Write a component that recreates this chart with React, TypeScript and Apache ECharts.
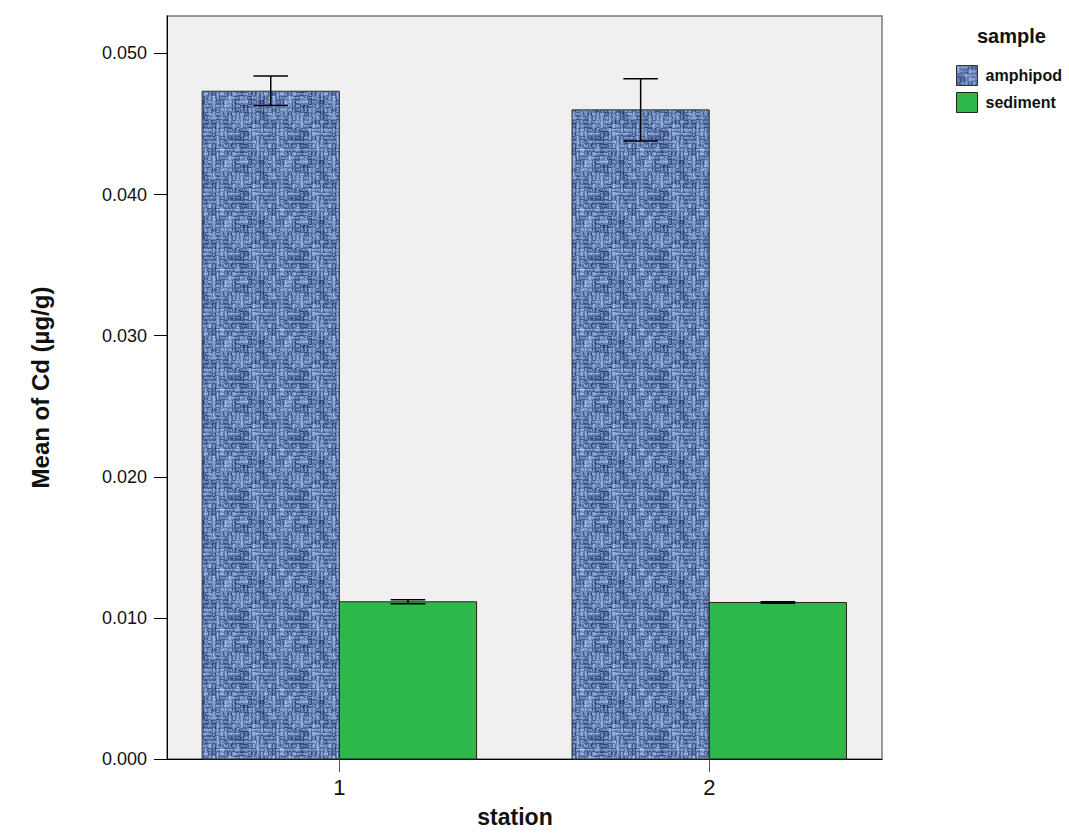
import React, { useEffect, useRef } from "react";
import * as echarts from "echarts";

const stations = [1, 2];
const amphipodMean = [0.04732, 0.046];
const amphipodLow = [0.0463, 0.04379];
const amphipodHigh = [0.04839, 0.04821];
const sedimentMean = [0.01114, 0.01109];
const sedimentLow = [0.011, 0.01104];
const sedimentHigh = [0.01128, 0.01114];
const yTicks = [0, 0.01, 0.02, 0.03, 0.04, 0.05];
const seriesNames = ["amphipod", "sediment"];

const BAR_W = 0.371;
const CAP = 0.0468;
const FONT = "'Liberation Sans', Arial, sans-serif";

function hash(a: number, b: number): number {
  const s = Math.sin(a * 12.9898 + b * 78.233) * 43758.5453;
  return s - Math.floor(s);
}

function makeTexture(): string {
  const S = 60;
  const c = document.createElement("canvas");
  c.width = S;
  c.height = S;
  const ctx = c.getContext("2d")!;
  const img = ctx.createImageData(S, S);
  const dark = [28, 52, 108];
  const light = [182, 210, 252];
  const prof = [0.3, 0.85, 0.65, 0.25];
  for (let y = 0; y < S; y++) {
    for (let x = 0; x < S; x++) {
      const cx = Math.floor(x / 4);
      const cy = Math.floor(y / 4);
      const bx = Math.floor(x / 9);
      const by = Math.floor(y / 9);
      const horiz = hash(cx * 0.9 + 5.1, cy * 1.3 + 2.2) > 0.5;
      const t = horiz ? y % 4 : x % 4;
      const n = hash(cx * 3.1 + 0.7, cy * 5.3 + 1.1);
      const big = hash(bx * 1.7 + 2.3, by * 2.9 + 0.4);
      let v =
        prof[t] * 0.55 +
        n * 0.3 +
        (big - 0.5) * 0.25 +
        (hash(x + 11.3, y + 4.7) - 0.5) * 0.35 +
        0.04;
      v = Math.max(0, Math.min(1, v));
      const i = (y * S + x) * 4;
      img.data[i] = dark[0] + (light[0] - dark[0]) * v;
      img.data[i + 1] = dark[1] + (light[1] - dark[1]) * v;
      img.data[i + 2] = dark[2] + (light[2] - dark[2]) * v;
      img.data[i + 3] = 255;
    }
  }
  ctx.putImageData(img, 0, 0);
  return c.toDataURL();
}

export default function App() {
  const ref = useRef<HTMLDivElement>(null);
  useEffect(() => {
    if (!ref.current) return;
    const chart = echarts.init(ref.current, null, { renderer: "svg" });
    const pattern: any = {
      image: makeTexture(),
      repeat: "repeat",
      imageWidth: 60,
      imageHeight: 60,
    };
    const green = "#2eb84b";

    const makeRender = (side: number, fill: any, stroke: string) => (params: any, api: any) => {
      const x = api.value(0) as number;
      const m = api.value(1) as number;
      const lo = api.value(2) as number;
      const hi = api.value(3) as number;
      const x0 = side < 0 ? x - BAR_W : x;
      const x1 = x0 + BAR_W;
      const mid = (x0 + x1) / 2;
      const tl = api.coord([x0, m]);
      const br = api.coord([x1, 0]);
      const pHi = api.coord([mid, hi]);
      const pLo = api.coord([mid, lo]);
      const capL = api.coord([mid - CAP, hi])[0];
      const capR = api.coord([mid + CAP, hi])[0];
      const es = { stroke: "#000", lineWidth: 1.5 };
      return {
        type: "group",
        children: [
          {
            type: "rect",
            shape: { x: tl[0], y: tl[1], width: br[0] - tl[0], height: br[1] - tl[1] },
            style: { fill, stroke, lineWidth: 1 },
          },
          { type: "line", shape: { x1: pHi[0], y1: pHi[1], x2: pLo[0], y2: pLo[1] }, style: es },
          { type: "line", shape: { x1: capL, y1: pHi[1], x2: capR, y2: pHi[1] }, style: es },
          { type: "line", shape: { x1: capL, y1: pLo[1], x2: capR, y2: pLo[1] }, style: es },
        ],
      };
    };

    const ampData = stations.map((s, i) => [s, amphipodMean[i], amphipodLow[i], amphipodHigh[i]]);
    const sedData = stations.map((s, i) => [s, sedimentMean[i], sedimentLow[i], sedimentHigh[i]]);

    chart.setOption({
      animation: false,
      textStyle: { fontFamily: FONT },
      grid: {
        left: 167,
        right: 187,
        top: 16,
        bottom: 71,
        show: true,
        backgroundColor: "#f0f0f0",
        borderColor: "#7a7a7a",
        borderWidth: 1.5,
      },
      xAxis: {
        type: "value",
        min: 0.534,
        max: 2.467,
        name: "station",
        nameLocation: "middle",
        nameGap: 46,
        nameTextStyle: {
          fontSize: 23,
          fontWeight: "bold",
          color: "#111",
          fontFamily: FONT,
          padding: [0, 19, 0, 0],
        },
        splitLine: { show: false },
        axisLine: { show: true, lineStyle: { color: "#000", width: 1 } },
        axisTick: {
          show: true,
          length: 13,
          customValues: stations,
          lineStyle: { color: "#555", width: 1 },
        },
        axisLabel: {
          customValues: stations,
          fontSize: 22,
          color: "#111",
          margin: 17,
          fontFamily: FONT,
          formatter: (v: number) => String(v),
        },
      },
      yAxis: {
        type: "value",
        min: 0,
        max: 0.05265,
        name: "Mean of Cd (µg/g)",
        nameLocation: "middle",
        nameGap: 115,
        nameTextStyle: { fontSize: 24, fontWeight: "bold", color: "#111", fontFamily: FONT },
        splitLine: { show: false },
        axisLine: { show: true, lineStyle: { color: "#000", width: 1 } },
        axisTick: {
          show: true,
          length: 13,
          customValues: yTicks,
          lineStyle: { color: "#000", width: 1 },
        },
        axisLabel: {
          customValues: yTicks,
          fontSize: 18,
          color: "#111",
          margin: 20,
          fontFamily: FONT,
          formatter: (v: number) => v.toFixed(3),
        },
      },
      legend: {
        orient: "vertical",
        left: 956,
        top: 65,
        padding: 0,
        itemWidth: 21,
        itemHeight: 20,
        itemGap: 6,
        icon: "rect",
        selectedMode: false,
        textStyle: {
          fontSize: 16,
          fontWeight: "bold",
          color: "#111",
          fontFamily: FONT,
          padding: [0, 0, 0, 3],
        },
        data: [
          { name: seriesNames[0], itemStyle: { color: pattern, borderColor: "#333", borderWidth: 1 } },
          { name: seriesNames[1], itemStyle: { color: green, borderColor: "#222", borderWidth: 1 } },
        ],
      },
      graphic: [
        {
          type: "text",
          left: 977,
          top: 26,
          style: {
            text: "sample",
            fontSize: 20,
            fontWeight: "bold",
            fill: "#111",
            fontFamily: FONT,
          },
        },
      ],
      series: [
        {
          name: seriesNames[0],
          type: "custom",
          itemStyle: { color: "#6a8ccc" },
          renderItem: makeRender(-1, pattern, "#333"),
          encode: { x: 0, y: 1 },
          data: ampData,
        },
        {
          name: seriesNames[1],
          type: "custom",
          itemStyle: { color: green },
          renderItem: makeRender(1, green, "#222"),
          encode: { x: 0, y: 1 },
          data: sedData,
        },
      ],
    });
    return () => chart.dispose();
  }, []);
  return (
    <div
      ref={ref}
      style={{ position: "absolute", left: 0, top: 0, width: 1069, height: 833 }}
    />
  );
}
